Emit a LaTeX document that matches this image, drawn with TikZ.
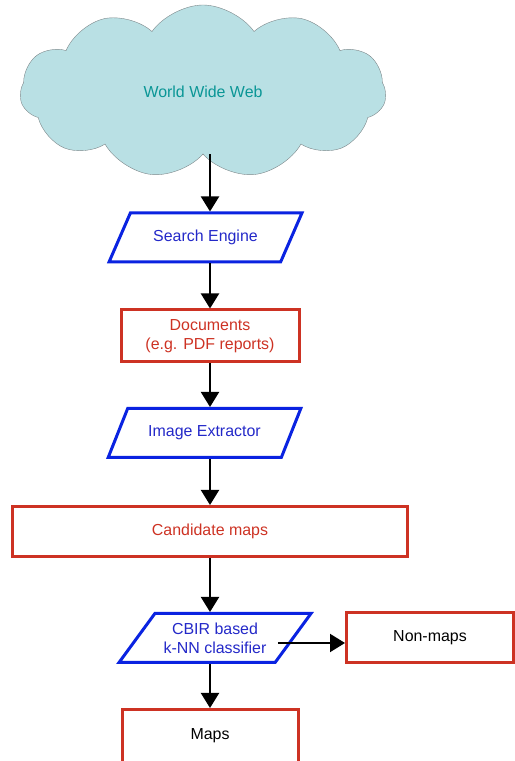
\documentclass[tikz,border=0pt]{standalone}
\usepackage{fontspec}
\setmainfont{Liberation Sans}
\usetikzlibrary{shapes.symbols,shapes.geometric,arrows.meta}
\definecolor{webfill}{RGB}{185,224,228}
\definecolor{webline}{RGB}{125,135,138}
\definecolor{webtext}{RGB}{10,150,150}
\definecolor{flowblue}{RGB}{10,35,225}
\definecolor{textblue}{RGB}{35,40,200}
\definecolor{flowred}{RGB}{205,50,35}
\begin{document}
\begin{tikzpicture}[x=1bp, y=1bp,
        every node/.style={font=\fontsize{16}{19}\selectfont},
        io/.style={trapezium, trapezium left angle=45, trapezium right angle=135,
                trapezium stretches=true, draw=flowblue, line width=3bp, text=textblue,
                minimum width=193bp, minimum height=49bp, align=center, inner sep=0pt},
        box/.style={rectangle, draw=flowred, line width=3bp, text=flowred,
                minimum height=50bp, align=center},
        arr/.style={-{Triangle[length=15bp,width=18bp]}, line width=2bp, black}]
        \useasboundingbox (0,0) rectangle (515,761);
        % main chain
        \node[cloud, cloud puffs=11, cloud puff arc=110, cloud ignores aspect, draw=webline, fill=webfill,
                text=webtext, minimum width=366bp, minimum height=173bp] (web) at (203,669.5) {World Wide Web};
        \node[io] (search) at (205.5,523.5) {Search Engine};
        \node[box, minimum width=178bp, minimum height=52bp] (docs) at (210,425) {Documents\\(e.g. PDF reports)};
        \node[io] (extract) at (204.5,328) {Image Extractor};
        \node[box, minimum width=394bp] (cand) at (210,229.5) {Candidate maps};
        \node[io, minimum width=192bp] (knn) at (215,123) {CBIR based\\k-NN classifier};
        % outputs
        \node[box, minimum width=167bp, text=black] (nonmaps) at (430,123) {Non-maps};
        \node[box, minimum width=176bp, minimum height=53bp, text=black] (maps) at (210,25) {Maps};
        \draw[arr] (web.south -| docs.north) -- (search.north -| docs.north);
        \draw[arr] (search.south -| docs.north) -- (docs.north);
        \draw[arr] (docs.south) -- (extract.north -| docs.south);
        \draw[arr] (extract.south -| cand.north) -- (cand.north);
        \draw[arr] (cand.south) -- (knn.north -| cand.south);
        \draw[arr] (knn.south -| maps.north) -- (maps.north);
        \draw[arr] ([xshift=-17bp,yshift=-5bp]knn.east) -- ([yshift=-5bp]knn.east -| nonmaps.west);
\end{tikzpicture}
\end{document}
